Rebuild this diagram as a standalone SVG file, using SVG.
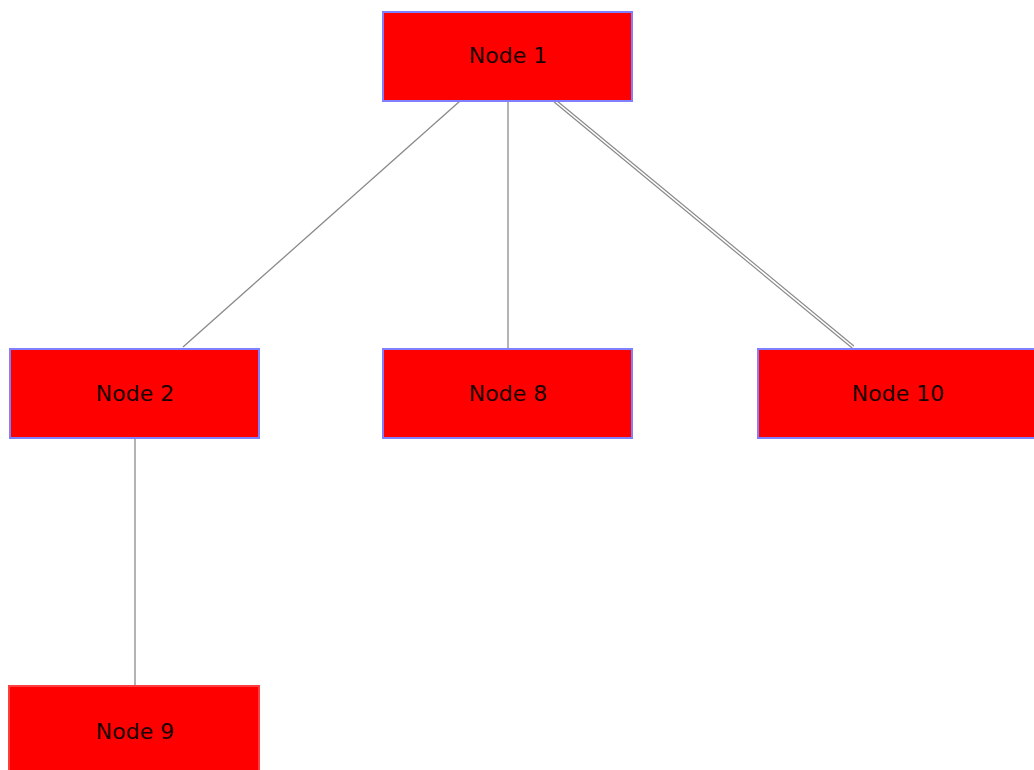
<svg xmlns="http://www.w3.org/2000/svg" width="1034" height="770" viewBox="0 0 1034 770">
<style>
.node rect{fill:#ff0000;stroke:#7f7fff;stroke-width:2}
.node.sel rect{stroke:#ff3f3f}
.node text{font-family:"DejaVu Sans",Verdana,sans-serif;font-size:22px;fill:#1a0000;text-anchor:middle;dominant-baseline:central}
.edge{stroke:#8a8a8a;stroke-width:1.3;fill:none}
</style>
<rect width="1034" height="770" fill="#ffffff"/>
<g id="connectors">
<line class="edge" x1="460" y1="101" x2="183" y2="347"/>
<line class="edge" x1="508" y1="101" x2="508" y2="348"/>
<line x1="555" y1="101" x2="853" y2="347" stroke="#8a8a8a" stroke-width="4"/>
<line x1="555" y1="101" x2="853" y2="347" stroke="#ffffff" stroke-width="1.6"/>
<line class="edge" x1="135" y1="439" x2="135" y2="685"/>
</g>
<g id="node1" class="node"><rect x="383" y="12" width="249" height="89"/><text x="508" y="55.5">Node 1</text></g>
<g id="node2" class="node"><rect x="10" y="349" width="249" height="89"/><text x="135" y="393.5">Node 2</text></g>
<g id="node8" class="node"><rect x="383" y="349" width="249" height="89"/><text x="508" y="393.5">Node 8</text></g>
<g id="node10" class="node"><rect x="758" y="349" width="279" height="89"/><text x="898" y="393.5">Node 10</text></g>
<g id="node9" class="node sel"><rect x="9" y="686" width="250" height="89"/><text x="135" y="731.5">Node 9</text></g>
</svg>
